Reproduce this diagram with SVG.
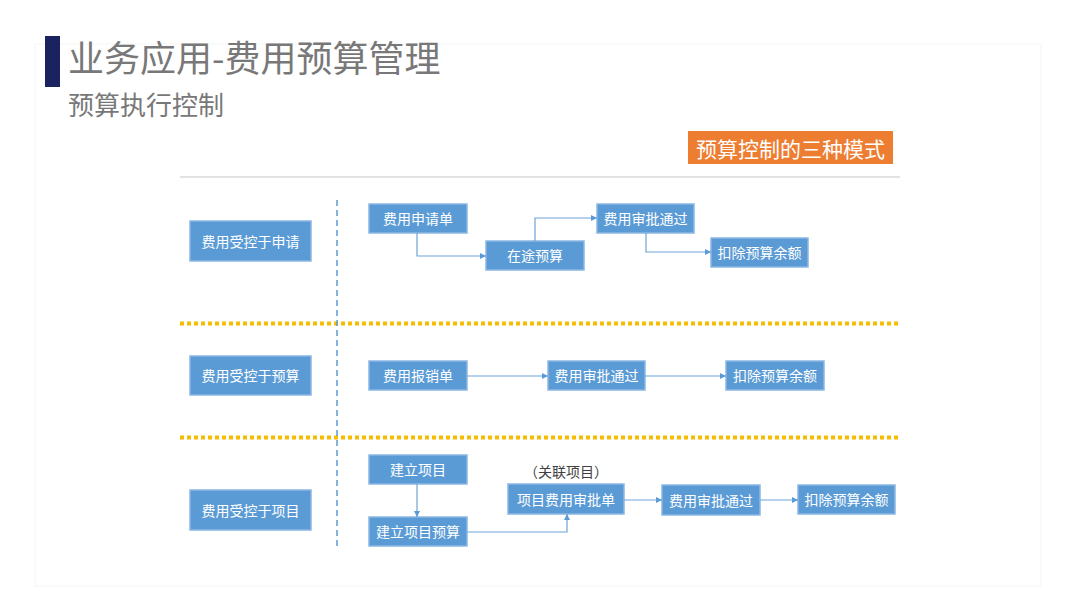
<svg xmlns="http://www.w3.org/2000/svg" width="1080" height="608" viewBox="0 0 1080 608">
<defs>
<style>
.bx{fill:#5b9bd5;stroke:#8cb7e3;stroke-width:1.5}
.bt{font-family:"Noto Sans CJK SC","Noto Sans",sans-serif;font-size:14px;fill:#ffffff;text-anchor:middle;dominant-baseline:central}
.cn{fill:none;stroke:#6fa3d8;stroke-width:1.2;marker-end:url(#ah)}
.dot{stroke:#f7bb00;stroke-width:4;stroke-dasharray:4 3}
</style>
<marker id="ah" viewBox="0 0 6 6" refX="6" refY="3" markerWidth="6" markerHeight="6" orient="auto" markerUnits="userSpaceOnUse">
<path d="M0,0 L6,3 L0,6 Z" fill="#5b9bd5"/>
</marker>
</defs>
<rect width="1080" height="608" fill="#ffffff"/>
<rect x="35" y="44" width="1006" height="542" fill="#ffffff" stroke="#f7f7f7" stroke-width="1.2"/>
<g id="title">
<rect x="45" y="36" width="15" height="51" fill="#1a2360"/>
<text x="68" y="72" font-family="Noto Sans CJK SC,sans-serif" font-size="36" fill="#787878">业务应用-费用预算管理</text>
<text x="68" y="115" font-family="Noto Sans CJK SC,sans-serif" font-size="26" fill="#787878">预算执行控制</text>
</g>
<g id="badge">
<rect x="688" y="131" width="205" height="33" fill="#ed7d31"/>
<text x="790.5" y="148" font-family="Noto Sans CJK SC,sans-serif" font-size="21" fill="#ffffff" text-anchor="middle" dominant-baseline="central">预算控制的三种模式</text>
</g>
<g id="separators">
<line x1="180" y1="177" x2="900" y2="177" stroke="#d9d9d9" stroke-width="1.5"/>
<line x1="180" y1="323.5" x2="900" y2="323.5" class="dot"/>
<line x1="180" y1="437.5" x2="900" y2="437.5" class="dot"/>
<line x1="337" y1="200" x2="337" y2="548" stroke="#5b9bd5" stroke-width="1.5" stroke-dasharray="6 4"/>
</g>
<g id="mode1"><rect class="bx" x="190" y="221" width="121" height="40"/><text class="bt" x="250.5" y="240.5">费用受控于申请</text></g>
<g id="mode2"><rect class="bx" x="190" y="356" width="121" height="39"/><text class="bt" x="250.5" y="375">费用受控于预算</text></g>
<g id="mode3"><rect class="bx" x="190" y="490" width="121" height="40"/><text class="bt" x="250.5" y="509.5">费用受控于项目</text></g>
<g id="r1a"><rect class="bx" x="369" y="204" width="98" height="29"/><text class="bt" x="418" y="218">费用申请单</text></g>
<g id="r1b"><rect class="bx" x="486" y="241" width="98" height="29"/><text class="bt" x="535" y="255">在途预算</text></g>
<g id="r1c"><rect class="bx" x="597" y="204" width="97" height="29"/><text class="bt" x="645.5" y="218">费用审批通过</text></g>
<g id="r1d"><rect class="bx" x="711" y="238" width="97" height="29"/><text class="bt" x="759.5" y="252">扣除预算余额</text></g>
<g id="r2a"><rect class="bx" x="369" y="361" width="98" height="29"/><text class="bt" x="418" y="375">费用报销单</text></g>
<g id="r2b"><rect class="bx" x="548" y="361" width="97" height="29"/><text class="bt" x="596.5" y="375">费用审批通过</text></g>
<g id="r2c"><rect class="bx" x="726" y="361" width="98" height="29"/><text class="bt" x="775" y="375">扣除预算余额</text></g>
<g id="r3a"><rect class="bx" x="369" y="455" width="98" height="29"/><text class="bt" x="418" y="469">建立项目</text></g>
<g id="r3b"><rect class="bx" x="369" y="517" width="98" height="29"/><text class="bt" x="418" y="531">建立项目预算</text></g>
<g id="r3c"><rect class="bx" x="508" y="484" width="116" height="30"/><text class="bt" x="566" y="498.5">项目费用审批单</text>
<text x="566" y="477" font-family="Noto Sans CJK SC,sans-serif" font-size="14" fill="#404040" text-anchor="middle">（关联项目）</text></g>
<g id="r3d"><rect class="bx" x="662" y="485" width="98" height="30"/><text class="bt" x="711" y="499.5">费用审批通过</text></g>
<g id="r3e"><rect class="bx" x="798" y="485" width="97" height="29"/><text class="bt" x="846.5" y="499">扣除预算余额</text></g>
<g id="connectors">
<path class="cn" d="M417,233 V256 H486"/>
<path class="cn" d="M535,241 V218 H597"/>
<path class="cn" d="M646,233 V252 H711"/>
<path class="cn" d="M467,376 H548"/>
<path class="cn" d="M645,376 H726"/>
<path class="cn" d="M417,484 V517"/>
<path class="cn" d="M467,532 H567 V514"/>
<path class="cn" d="M624,500 H662"/>
<path class="cn" d="M760,500 H798"/>
</g>
</svg>
